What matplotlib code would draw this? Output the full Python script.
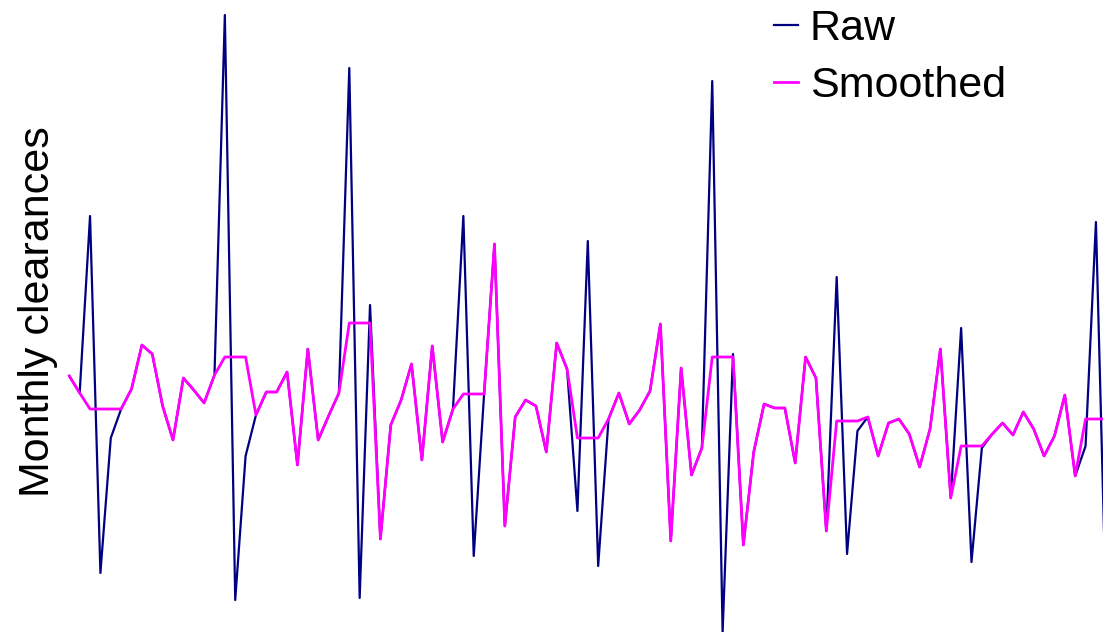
import matplotlib
matplotlib.use("Agg")
import matplotlib.pyplot as plt
import numpy as np

# Monthly clearances (arbitrary units; axis has no ticks)
raw_px = [376, 393, 216, 573, 438, 409, 389, 345, 354, 406,
          440, 378, 390, 403, 375, 15, 600, 456, 415, 392,
          392, 372, 465, 349, 440, 416, 393, 68, 598, 305,
          539, 425, 400, 364, 460, 346, 442, 409, 216, 556,
          394, 244, 526, 417, 400, 406, 452, 343, 369, 511,
          241, 566, 419, 393, 424, 410, 391, 324, 541, 368,
          475, 448, 81, 632, 354, 545, 452, 404, 408, 408,
          463, 357, 378, 531, 277, 554, 431, 417, 456, 423,
          419, 434, 467, 429, 349, 498, 328, 562, 448, 434,
          423, 435, 412, 429, 456, 436, 395, 476, 446, 222,
          620]
smooth_px = [376, 393, 409, 409, 409, 409, 389, 345, 354, 406,
             440, 378, 390, 403, 375, 357, 357, 357, 415, 392,
             392, 372, 465, 349, 440, 416, 393, 323, 323, 323,
             539, 425, 400, 364, 460, 346, 442, 409, 394, 394,
             394, 244, 526, 417, 400, 406, 452, 343, 369, 438,
             438, 438, 419, 393, 424, 410, 391, 324, 541, 368,
             475, 448, 357, 357, 357, 545, 452, 404, 408, 408,
             463, 357, 378, 531, 421, 421, 421, 417, 456, 423,
             419, 434, 467, 429, 349, 498, 446, 446, 446, 434,
             423, 435, 412, 429, 456, 436, 395, 476, 419, 419,
             419]

raw = [632 - v for v in raw_px]
smoothed = [632 - v for v in smooth_px]
months = list(range(len(raw)))

W, H = 1103, 632
fig = plt.figure(figsize=(W / 100, H / 100), dpi=100)
left_px = 69.3
step_px = 10.37
ax = fig.add_axes([left_px / W, 0, (W - left_px) / W, 1])
ax.set_xlim(0, (W - left_px) / step_px)
ax.set_ylim(0, 632)
ax.axis("off")

ax.plot(months, raw, color="#000080", lw=1.6, label="Raw", clip_on=False)
ax.plot(months, smoothed, color="#FF00FF", lw=2.0, label="Smoothed", clip_on=False)

font = "Liberation Sans"
fs = 31
leg = ax.legend(loc="upper left", bbox_to_anchor=(774 / W, 1 - 9 / H),
                bbox_transform=fig.transFigure, frameon=False,
                borderpad=0, borderaxespad=0, handlelength=0.56,
                handletextpad=0.27, labelspacing=0.4,
                prop={"family": font, "size": fs})

fig.text(38 / W, 1 - 311.5 / H, "Monthly clearances", rotation=90,
         ha="center", va="center", family=font, fontsize=fs)

fig.savefig("out.png", dpi=100)
